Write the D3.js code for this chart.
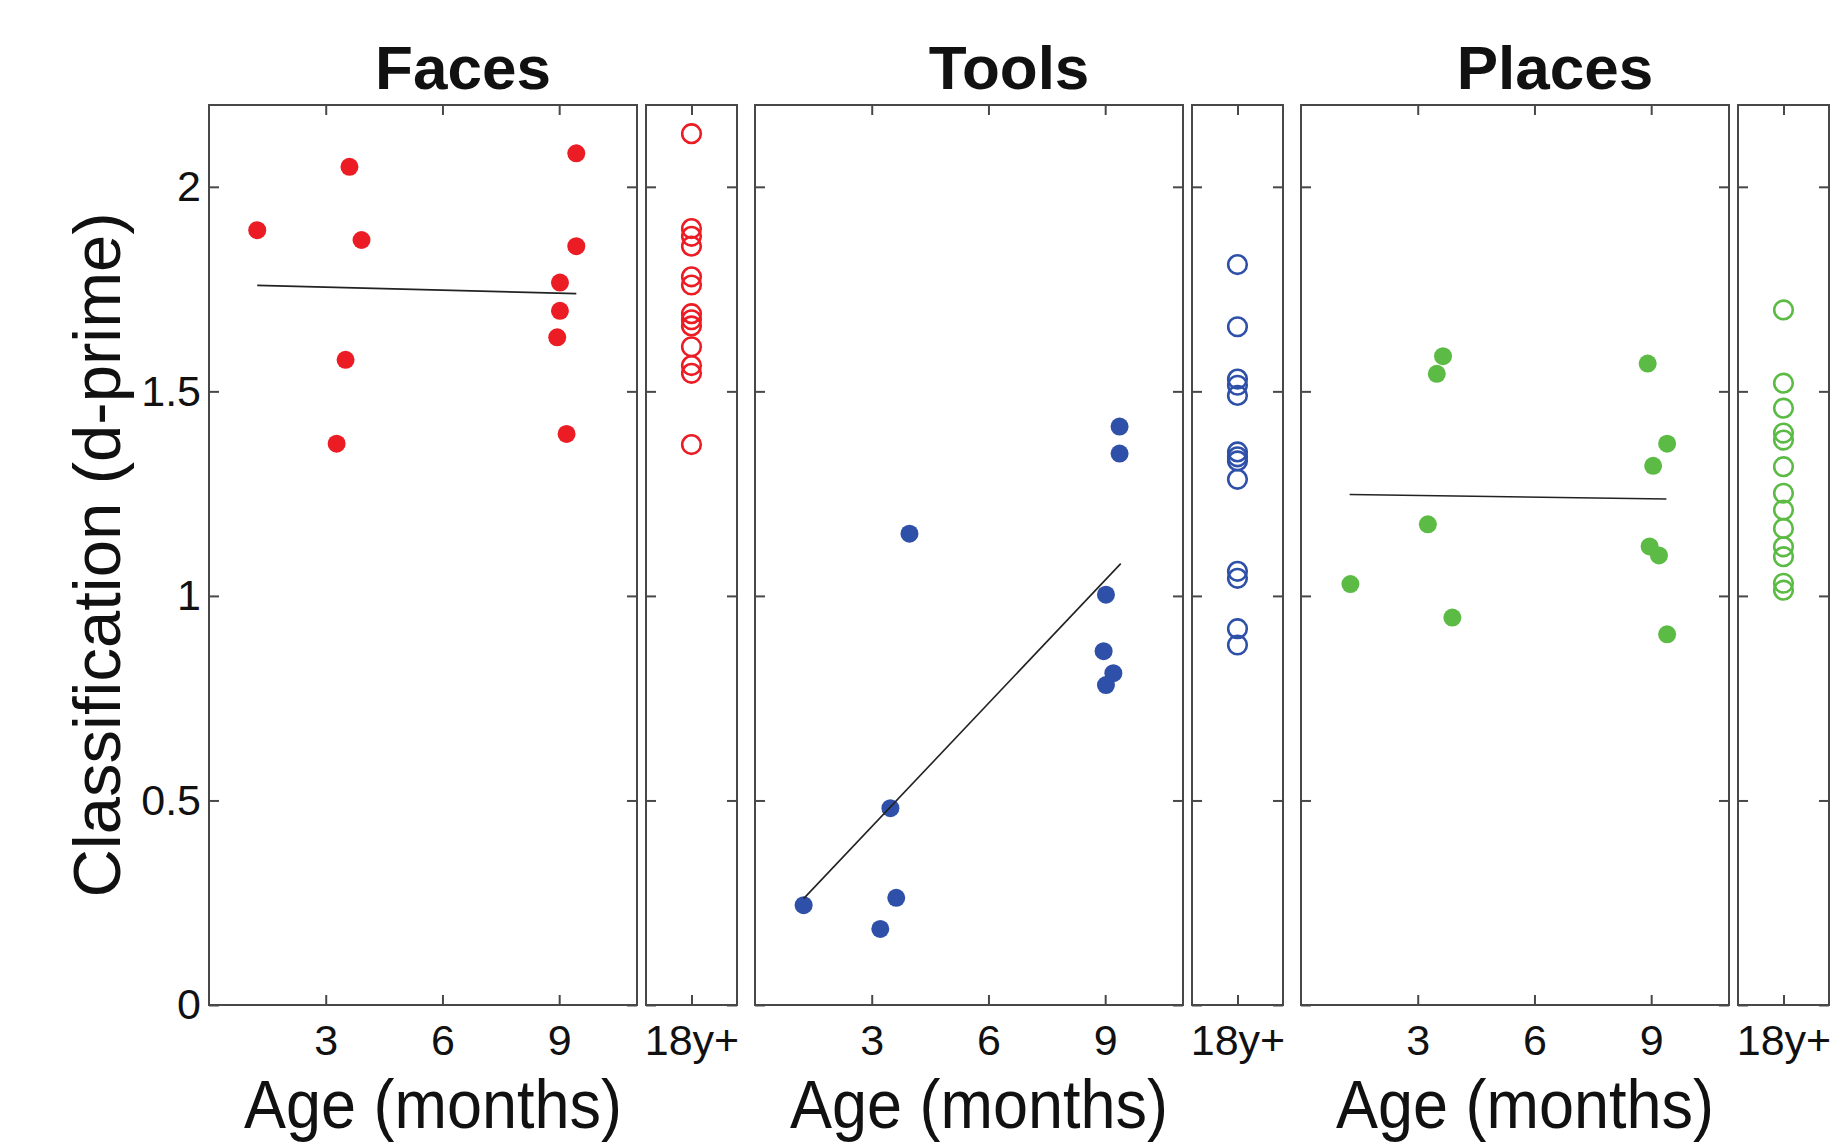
<!DOCTYPE html>
<html>
<head>
<meta charset="utf-8">
<script src="https://cdn.jsdelivr.net/npm/d3@7"></script>
<style>
  body { margin: 0; background: #fff; }
  text { font-family: "Liberation Sans", Arial, Helvetica, sans-serif; fill: #111; }
</style>
</head>
<body>
<div id="chart"></div>
<script>
var svgWidth = 1832;
var svgHeight = 1142;

// categories, colours and tick labels
var categories = ["Faces", "Tools", "Places"];
var colors = ["#ec1c24", "#2f50a8", "#5cbb45"];
var monthTicks = [3, 6, 9];
var scoreTicks = [0, 0.5, 1, 1.5, 2];
var adultLabel = "18y+";

// infants: age (months) and d-prime, adults: d-prime, fit line end points
var facesAge = [1.24, 3.61, 3.92, 3.51, 3.28, 9.44, 9.44, 9.02, 9.02, 8.95, 9.19];
var facesScore = [1.894, 2.049, 1.870, 1.577, 1.372, 2.082, 1.855, 1.766, 1.697, 1.632, 1.396];
var facesAdult = [2.13, 1.898, 1.879, 1.855, 1.78, 1.76, 1.69, 1.675, 1.66, 1.609, 1.563, 1.544, 1.37];
var facesFit = [[1.24, 1.759], [9.44, 1.739]];

var toolsAge = [9.37, 9.37, 3.97, 9.02, 8.96, 9.21, 9.02, 3.48, 3.63, 3.22, 1.25];
var toolsScore = [1.414, 1.348, 1.152, 1.003, 0.865, 0.811, 0.782, 0.481, 0.262, 0.186, 0.244];
var toolsAdult = [1.81, 1.658, 1.53, 1.515, 1.49, 1.352, 1.34, 1.33, 1.285, 1.06, 1.043, 0.92, 0.88];
var toolsFit = [[1.25, 0.260], [9.40, 1.079]];

var placesAge = [3.65, 3.49, 8.91, 9.41, 9.05, 3.26, 8.96, 9.20, 1.27, 3.89, 9.41];
var placesScore = [1.586, 1.543, 1.568, 1.372, 1.318, 1.175, 1.121, 1.099, 1.029, 0.947, 0.906];
var placesAdult = [1.699, 1.52, 1.459, 1.398, 1.381, 1.316, 1.251, 1.21, 1.165, 1.12, 1.096, 1.031, 1.014];
var placesFit = [[1.25, 1.248], [9.39, 1.237]];

var panels = [
  { age: facesAge, score: facesScore, adult: facesAdult, fit: facesFit },
  { age: toolsAge, score: toolsScore, adult: toolsAdult, fit: toolsFit },
  { age: placesAge, score: placesScore, adult: placesAdult, fit: placesFit }
];

// layout
var plotTop = 105, plotBottom = 1005;
var firstLeft = 209, groupStep = 546;
var mainW = 428, adultGap = 9, adultW = 91;
var frameColor = "#484848";
var tickFont = 43;

var svg = d3.select("#chart")
  .append("svg")
  .attr("width", svgWidth)
  .attr("height", svgHeight);

var y = d3.scaleLinear().domain([0, 2.2]).range([plotBottom, plotTop]);

function styleAxis(g) {
  g.select(".domain").remove();
  g.selectAll(".tick line").attr("stroke", frameColor).attr("stroke-width", 2);
  g.attr("font-family", null).attr("font-size", null);
  g.selectAll(".tick text").style("font-size", tickFont + "px").attr("fill", "#111");
}

function frame(x0, w) {
  svg.append("rect")
    .attr("x", x0).attr("y", plotTop)
    .attr("width", w).attr("height", plotBottom - plotTop)
    .attr("fill", "none")
    .attr("stroke", frameColor)
    .attr("stroke-width", 2);
}

panels.forEach(function(p, i) {
  var left = firstLeft + i * groupStep;
  var x = d3.scaleLinear().domain([0, 11]).range([left, left + mainW]);
  var aLeft = left + mainW + adultGap;
  var xa = d3.scalePoint().domain([adultLabel])
    .range([aLeft, aLeft + adultW]).padding(0.5);

  frame(left, mainW);
  frame(aLeft, adultW);

  // main panel ticks (inward, box style)
  svg.append("g").attr("transform", `translate(0, ${plotBottom})`)
    .call(d3.axisBottom(x).tickValues(monthTicks).tickSize(-10).tickPadding(19))
    .call(styleAxis);
  svg.append("g").attr("transform", `translate(0, ${plotTop})`)
    .call(d3.axisTop(x).tickValues(monthTicks).tickSize(-10).tickFormat(""))
    .call(styleAxis);
  svg.append("g").attr("transform", `translate(${left}, 0)`)
    .call(d3.axisLeft(y).tickValues(scoreTicks).tickSize(-10).tickPadding(8)
      .tickFormat(i === 0 ? function(d) { return d; } : ""))
    .call(styleAxis);
  svg.append("g").attr("transform", `translate(${left + mainW}, 0)`)
    .call(d3.axisRight(y).tickValues(scoreTicks).tickSize(-10).tickFormat(""))
    .call(styleAxis);

  // adult panel ticks
  svg.append("g").attr("transform", `translate(0, ${plotBottom})`)
    .call(d3.axisBottom(xa).tickSize(-10).tickPadding(19))
    .call(styleAxis);
  svg.append("g").attr("transform", `translate(0, ${plotTop})`)
    .call(d3.axisTop(xa).tickSize(-10).tickFormat(""))
    .call(styleAxis);
  svg.append("g").attr("transform", `translate(${aLeft}, 0)`)
    .call(d3.axisLeft(y).tickValues(scoreTicks).tickSize(-10).tickFormat(""))
    .call(styleAxis);
  svg.append("g").attr("transform", `translate(${aLeft + adultW}, 0)`)
    .call(d3.axisRight(y).tickValues(scoreTicks).tickSize(-10).tickFormat(""))
    .call(styleAxis);

  // infant dots
  svg.append("g").selectAll("circle")
    .data(p.age.map(function(a, k) { return [a, p.score[k]]; }))
    .enter()
    .append("circle")
    .attr("cx", d => x(d[0]))
    .attr("cy", d => y(d[1]))
    .attr("r", 9)
    .attr("fill", colors[i]);

  // fit line
  svg.append("path")
    .datum(p.fit)
    .attr("d", d3.line().x(d => x(d[0])).y(d => y(d[1])))
    .attr("fill", "none")
    .attr("stroke", "#222")
    .attr("stroke-width", 1.6);

  // adults
  svg.append("g").selectAll("circle")
    .data(p.adult)
    .enter()
    .append("circle")
    .attr("cx", xa(adultLabel))
    .attr("cy", d => y(d))
    .attr("r", 9.3)
    .attr("fill", "none")
    .attr("stroke", colors[i])
    .attr("stroke-width", 2.6);

  svg.append("text")
    .attr("x", left + 254)
    .attr("y", 89)
    .attr("text-anchor", "middle")
    .style("font-size", "62px")
    .style("font-weight", "bold")
    .text(categories[i]);

  svg.append("text")
    .attr("transform", `translate(${left + 224}, 1128) scale(1, 1.1)`)
    .attr("text-anchor", "middle")
    .style("font-size", "63px")
    .text("Age (months)");
});

svg.append("text")
  .attr("transform", `translate(120, ${(plotTop + plotBottom) / 2}) rotate(-90)`)
  .attr("text-anchor", "middle")
  .style("font-size", "67px")
  .text("Classification (d-prime)");
</script>
</body>
</html>
